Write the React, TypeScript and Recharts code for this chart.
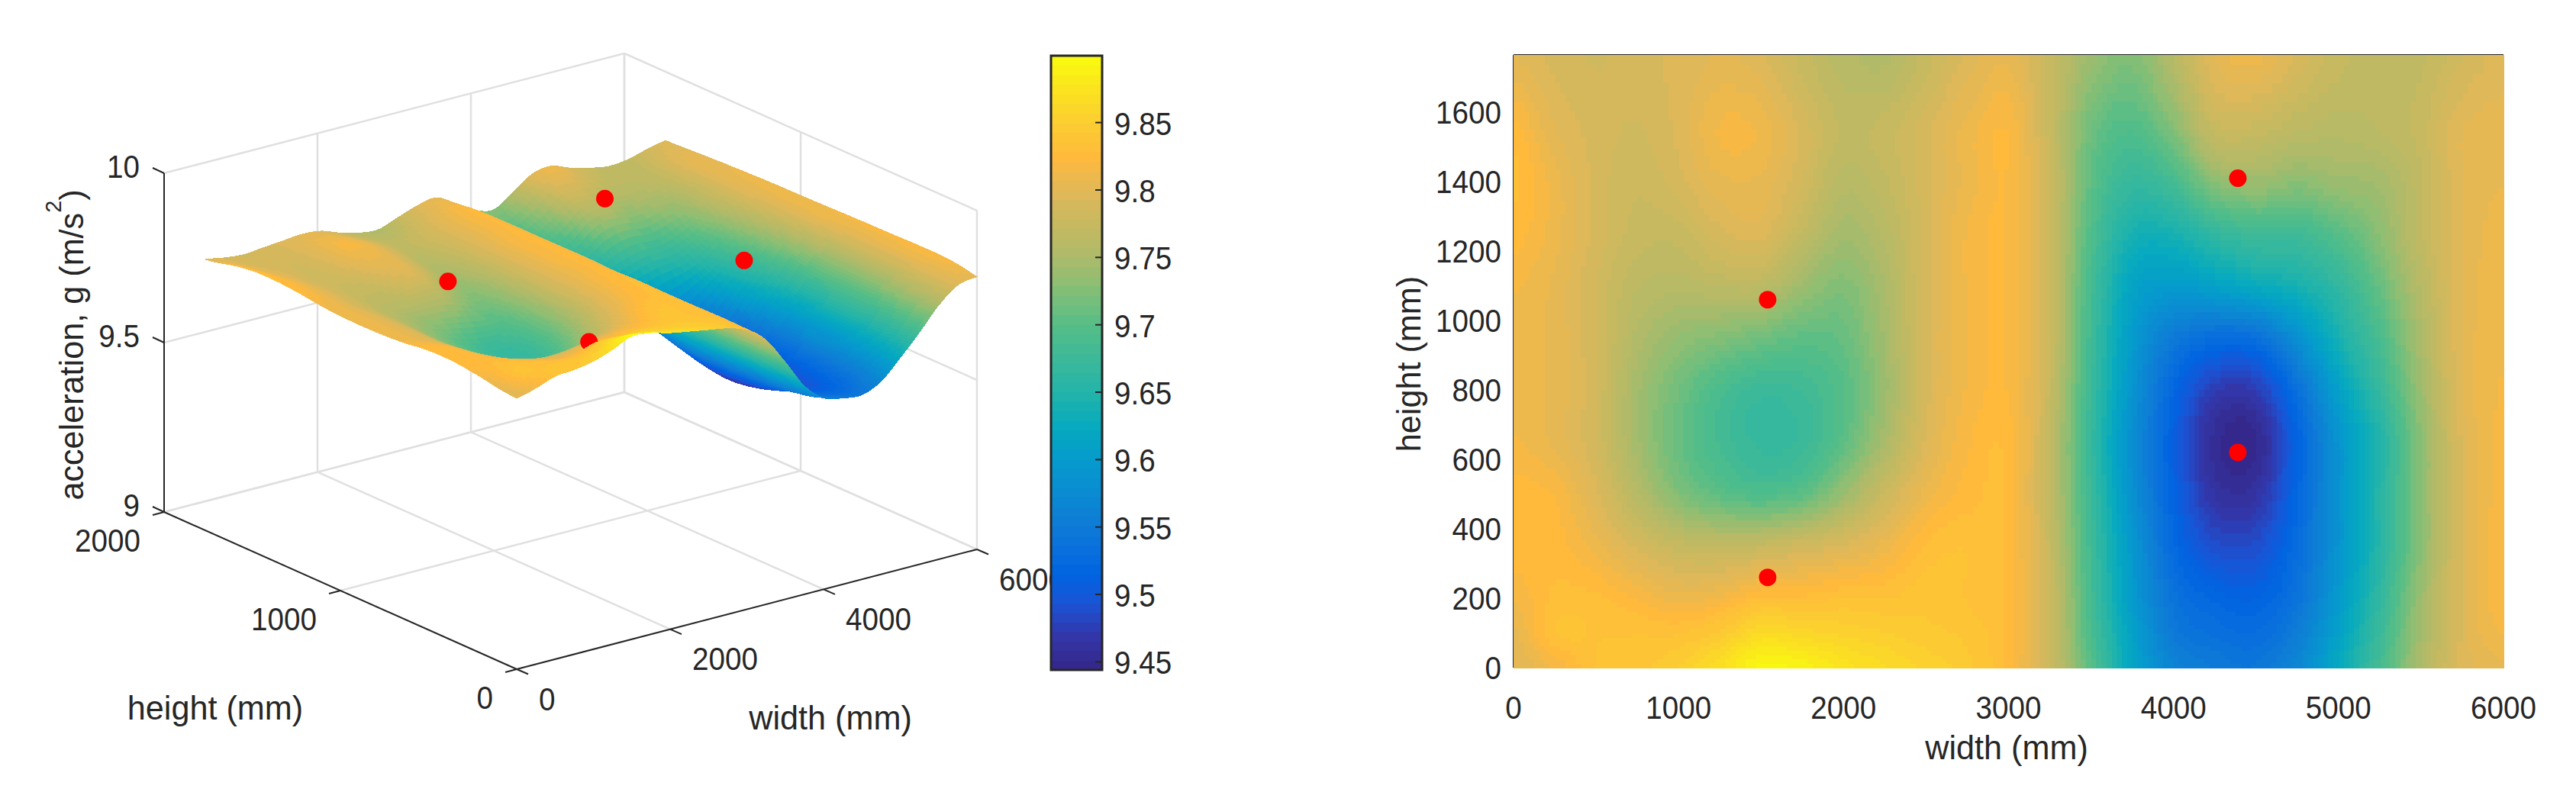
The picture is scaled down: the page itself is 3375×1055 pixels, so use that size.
import { ScatterChart, Scatter, XAxis, YAxis, ReferenceLine } from 'recharts';

const WIDTHS = [0, 250, 500, 750, 1000, 1250, 1500, 1750, 2000, 2250, 2500, 2750, 3000, 3250, 3500, 3750, 4000, 4250, 4500, 4750, 5000, 5250, 5500, 5750, 6000];
const HEIGHTS = [0, 100, 200, 350, 500, 650, 800, 950, 1100, 1250, 1400, 1550, 1765];

// acceleration, one list per width, bottom to top
const ACC_W0 = [9.8, 9.805, 9.815, 9.825, 9.825, 9.815, 9.81, 9.81, 9.815, 9.825, 9.83, 9.825, 9.8];
const ACC_W250 = [9.815, 9.835, 9.83, 9.825, 9.82, 9.805, 9.805, 9.805, 9.805, 9.81, 9.81, 9.8, 9.79];
const ACC_W500 = [9.835, 9.835, 9.83, 9.81, 9.795, 9.785, 9.785, 9.785, 9.785, 9.79, 9.79, 9.79, 9.785];
const ACC_W750 = [9.84, 9.835, 9.82, 9.79, 9.76, 9.745, 9.745, 9.755, 9.765, 9.775, 9.78, 9.785, 9.79];
const ACC_W1000 = [9.85, 9.835, 9.81, 9.775, 9.725, 9.71, 9.715, 9.735, 9.76, 9.775, 9.79, 9.795, 9.795];
const ACC_W1250 = [9.87, 9.845, 9.815, 9.77, 9.705, 9.685, 9.69, 9.725, 9.765, 9.79, 9.805, 9.815, 9.8];
const ACC_W1500 = [9.895, 9.865, 9.83, 9.775, 9.695, 9.67, 9.675, 9.715, 9.765, 9.795, 9.805, 9.812, 9.795];
const ACC_W1750 = [9.89, 9.86, 9.83, 9.785, 9.705, 9.675, 9.68, 9.705, 9.74, 9.77, 9.785, 9.79, 9.775];
const ACC_W2000 = [9.875, 9.855, 9.835, 9.795, 9.74, 9.705, 9.7, 9.71, 9.725, 9.745, 9.76, 9.77, 9.76];
const ACC_W2250 = [9.865, 9.85, 9.835, 9.81, 9.78, 9.75, 9.74, 9.745, 9.75, 9.76, 9.77, 9.775, 9.755];
const ACC_W2500 = [9.855, 9.845, 9.84, 9.83, 9.81, 9.795, 9.79, 9.79, 9.79, 9.79, 9.79, 9.79, 9.775];
const ACC_W2750 = [9.845, 9.84, 9.835, 9.835, 9.825, 9.82, 9.815, 9.815, 9.815, 9.815, 9.81, 9.81, 9.795];
const ACC_W3000 = [9.825, 9.825, 9.825, 9.825, 9.825, 9.825, 9.82, 9.82, 9.82, 9.82, 9.82, 9.82, 9.805];
const ACC_W3250 = [9.78, 9.78, 9.78, 9.775, 9.77, 9.77, 9.775, 9.78, 9.78, 9.78, 9.78, 9.775, 9.775];
const ACC_W3500 = [9.7, 9.69, 9.685, 9.68, 9.675, 9.67, 9.675, 9.68, 9.685, 9.695, 9.705, 9.715, 9.74];
const ACC_W3750 = [9.615, 9.61, 9.6, 9.595, 9.585, 9.58, 9.59, 9.6, 9.615, 9.64, 9.67, 9.695, 9.725];
const ACC_W4000 = [9.565, 9.55, 9.54, 9.525, 9.515, 9.51, 9.52, 9.55, 9.6, 9.64, 9.685, 9.725, 9.76];
const ACC_W4250 = [9.55, 9.535, 9.52, 9.49, 9.465, 9.455, 9.475, 9.53, 9.61, 9.665, 9.73, 9.775, 9.8];
const ACC_W4500 = [9.545, 9.53, 9.515, 9.49, 9.465, 9.45, 9.475, 9.535, 9.625, 9.68, 9.74, 9.775, 9.81];
const ACC_W4750 = [9.57, 9.555, 9.54, 9.53, 9.52, 9.515, 9.535, 9.585, 9.64, 9.68, 9.73, 9.765, 9.79];
const ACC_W5000 = [9.625, 9.61, 9.6, 9.59, 9.59, 9.59, 9.61, 9.64, 9.665, 9.7, 9.74, 9.76, 9.775];
const ACC_W5250 = [9.685, 9.675, 9.665, 9.655, 9.655, 9.65, 9.67, 9.69, 9.71, 9.73, 9.745, 9.765, 9.765];
const ACC_W5500 = [9.75, 9.745, 9.74, 9.73, 9.73, 9.73, 9.74, 9.75, 9.76, 9.77, 9.77, 9.775, 9.77];
const ACC_W5750 = [9.795, 9.795, 9.795, 9.795, 9.795, 9.795, 9.8, 9.8, 9.8, 9.8, 9.8, 9.8, 9.785];
const ACC_W6000 = [9.805, 9.815, 9.82, 9.82, 9.818, 9.817, 9.815, 9.813, 9.812, 9.81, 9.807, 9.803, 9.797];

const ACCEL = [ACC_W0, ACC_W250, ACC_W500, ACC_W750, ACC_W1000, ACC_W1250, ACC_W1500, ACC_W1750, ACC_W2000, ACC_W2250, ACC_W2500, ACC_W2750, ACC_W3000, ACC_W3250, ACC_W3500, ACC_W3750, ACC_W4000, ACC_W4250, ACC_W4500, ACC_W4750, ACC_W5000, ACC_W5250, ACC_W5500, ACC_W5750, ACC_W6000];

// measurement points: width, height, and the height they float at in the 3D view
const POINT_W = [1540, 1540, 4390, 4390];
const POINT_H = [1060, 260, 1410, 620];
const POINT_G = [9.808, 9.815, 9.803, 9.804];

const WIDTH_TICKS = [0, 2000, 4000, 6000];
const DEPTH_TICKS = [0, 1000, 2000];
const ACC_TICKS = [9, 9.5, 10];
const HEAT_X_TICKS = [0, 1000, 2000, 3000, 4000, 5000, 6000];
const HEAT_Y_TICKS = [0, 200, 400, 600, 800, 1000, 1200, 1400, 1600];
const BAR_TICKS = [9.45, 9.5, 9.55, 9.6, 9.65, 9.7, 9.75, 9.8, 9.85];

const G_MIN = 9.444;
const G_MAX = 9.8996;
const LEVELS = 64;
const COLOR_STOPS: [number, number[]][] = [
  [9.444, [53, 38, 135]],
  [9.47, [50, 55, 170]],
  [9.495, [25, 85, 215]],
  [9.515, [0, 100, 225]],
  [9.55, [15, 122, 215]],
  [9.6, [5, 155, 205]],
  [9.625, [6, 170, 190]],
  [9.65, [35, 180, 170]],
  [9.7, [85, 190, 135]],
  [9.73, [140, 190, 115]],
  [9.75, [172, 186, 105]],
  [9.8, [226, 184, 88]],
  [9.825, [255, 186, 60]],
  [9.85, [252, 205, 48]],
  [9.8996, [249, 251, 14]],
];

const TEXT = '#262626';
const GRID = '#e0e0e0';
const FONT = '"Liberation Sans", Arial, sans-serif';
const TICK_SIZE = 42;
const TICK_SQUEEZE = 0.92;
const TITLE_SIZE = 45;
const TITLE_SQUEEZE = 0.96;

const levelColor = (v: number) => {
  const x = Math.min(G_MAX, Math.max(G_MIN, v));
  for (let i = 1; i < COLOR_STOPS.length; i++) {
    const [a, ca] = COLOR_STOPS[i - 1];
    const [b, cb] = COLOR_STOPS[i];
    if (x <= b) {
      const t = (x - a) / (b - a);
      const c = ca.map((q, k) => Math.round(q + (cb[k] - q) * t));
      return `rgb(${c[0]},${c[1]},${c[2]})`;
    }
  }
  return 'rgb(249,251,14)';
};

const colorOf = (v: number) => {
  const step = (G_MAX - G_MIN) / LEVELS;
  const k = Math.min(LEVELS - 1, Math.max(0, Math.floor((v - G_MIN) / step)));
  return levelColor(G_MIN + (k + 0.5) * step);
};

// like MATLAB's shading interp: the cells hold only the values read above,
// the smooth fill between them is painting done inside each cell's shape
const cubic = (a: number, b: number, c: number, d: number, t: number) =>
  b + 0.5 * t * (c - a + t * (2 * a - 5 * b + 4 * c - d + t * (3 * (b - c) + d - a)));

const shadeAt = (u: number, v: number) => {
  const i = Math.min(WIDTHS.length - 2, Math.floor(u));
  const j = Math.min(HEIGHTS.length - 2, Math.floor(v));
  const row = (jj: number) => {
    const y = Math.max(0, Math.min(HEIGHTS.length - 1, jj));
    const at = (ii: number) => ACCEL[Math.max(0, Math.min(WIDTHS.length - 1, ii))][y];
    return cubic(at(i - 1), at(i), at(i + 1), at(i + 2), u - i);
  };
  return cubic(row(j - 1), row(j), row(j + 1), row(j + 2), v - j);
};

const sideAt = (list: number[], u: number) => {
  const i = Math.min(list.length - 2, Math.floor(u));
  return list[i] + (list[i + 1] - list[i]) * (u - i);
};

// fixed view of the 3D box, in the pixels of the left chart
const project = (w: number, h: number, g: number) => ({
  x: 677 + (w / 6000) * 603 - (h / 2000) * 462,
  y: 877 - (w / 6000) * 157 - (h / 2000) * 206 - (g - 9) * 444,
});

const gridCells = WIDTHS.slice(0, -1)
  .flatMap((w, i) => HEIGHTS.slice(0, -1).map((h, j) => ({ i, j, w, h, ...project(w, h, ACCEL[i][j]), hx: w, hy: h })))
  .sort((a, b) => b.i - a.i || b.j - a.j);
const farCells = gridCells.filter((c) => c.h >= 200);
const nearCells = gridCells.filter((c) => c.h < 200);

const surfacePoints = POINT_W.map((w, i) => ({ ...project(w, POINT_H[i], POINT_G[i]) }));
const heatPoints = POINT_W.map((w, i) => ({ hx: w, hy: POINT_H[i] }));

const SurfaceCell = (props: any) => {
  const { cx, cy, payload } = props;
  const { i, j } = payload;
  const US = 10;
  const VS = 5;
  const paths: { d: string; fill: string }[] = [];
  const corner = (u: number, v: number) => {
    const p = project(sideAt(WIDTHS, u), sideAt(HEIGHTS, v), shadeAt(u, v));
    return `${(cx + p.x - payload.x).toFixed(1)} ${(cy + p.y - payload.y).toFixed(1)}`;
  };
  for (let a = US - 1; a >= 0; a--) {
    for (let b = VS - 1; b >= 0; b--) {
      const u0 = i + a / US;
      const u1 = i + (a + 1) / US;
      const v0 = j + b / VS;
      const v1 = j + (b + 1) / VS;
      const fill = colorOf(shadeAt((u0 + u1) / 2, (v0 + v1) / 2));
      const d = `M${corner(u0, v0)}L${corner(u1, v0)}L${corner(u1, v1)}L${corner(u0, v1)}Z`;
      const last = paths[paths.length - 1];
      if (last && last.fill === fill) last.d += d;
      else paths.push({ d, fill });
    }
  }
  return (
    <g>
      {paths.map((p, k) => (
        <path key={k} d={p.d} fill={p.fill} stroke={p.fill} strokeWidth={1} shapeRendering="crispEdges" />
      ))}
    </g>
  );
};

const HEAT_W = 1297;
const HEAT_H = 803;
const HEAT_HMAX = 1765;

const HeatCell = (props: any) => {
  const { cx, cy, payload } = props;
  const { i, j } = payload;
  const SUB = 8;
  const pxW = (HEAT_W / 6000) * (WIDTHS[i + 1] - WIDTHS[i]);
  const pxH = (HEAT_H / HEAT_HMAX) * (HEIGHTS[j + 1] - HEIGHTS[j]);
  const byColor = new Map<string, string>();
  for (let a = 0; a < SUB; a++) {
    for (let b = 0; b < SUB; b++) {
      const fill = colorOf(shadeAt(i + (a + 0.5) / SUB, j + (b + 0.5) / SUB));
      const x = cx + (a / SUB) * pxW;
      const y = cy - ((b + 1) / SUB) * pxH;
      const d = `M${x.toFixed(1)} ${y.toFixed(1)}h${(pxW / SUB + 0.6).toFixed(1)}v${(pxH / SUB + 0.6).toFixed(1)}h${(-pxW / SUB - 0.6).toFixed(1)}Z`;
      byColor.set(fill, (byColor.get(fill) || '') + d);
    }
  }
  return (
    <g>
      {[...byColor.entries()].map(([fill, d]) => (
        <path key={fill} d={d} fill={fill} shapeRendering="crispEdges" />
      ))}
    </g>
  );
};

const RedDot = (props: any) => <circle cx={props.cx} cy={props.cy} r={11.5} fill="#ff0000" />;

const TickText = ({ x, y, anchor, children }: any) => (
  <text
    transform={`translate(${x},${y}) scale(${TICK_SQUEEZE},1)`}
    textAnchor={anchor}
    dominantBaseline="central"
    fontSize={TICK_SIZE}
    fontFamily={FONT}
    fill={TEXT}
  >
    {children}
  </text>
);

const boxTicks = [
  ...WIDTH_TICKS.map((w) => ({ ...project(w, 0, 9), label: String(w), tx: 15, ty: 6.5, lx: 29, ly: 39, anchor: 'start' })),
  ...DEPTH_TICKS.map((h) => ({ ...project(0, h, 9), label: String(h), tx: -15, ty: 4, lx: -31, ly: 37, anchor: 'end' })),
  ...ACC_TICKS.map((g) => ({ ...project(0, 2000, g), label: String(g), tx: -15, ty: -7, lx: -32, ly: -9, anchor: 'end' })),
];

const BoxTick = (props: any) => {
  const { cx, cy, payload } = props;
  return (
    <g>
      <line x1={cx} y1={cy} x2={cx + payload.tx} y2={cy + payload.ty} stroke={TEXT} strokeWidth={2} />
      <TickText x={cx + payload.lx} y={cy + payload.ly} anchor={payload.anchor}>{payload.label}</TickText>
    </g>
  );
};

const seg = (a: number[], b: number[]) => {
  const p = project(a[0], a[1], a[2]);
  const q = project(b[0], b[1], b[2]);
  return [{ x: p.x, y: p.y }, { x: q.x, y: q.y }] as any;
};

const boxGrid = [
  ...WIDTH_TICKS.slice(1).map((w) => seg([w, 0, 9], [w, 2000, 9])),
  ...DEPTH_TICKS.slice(1).map((h) => seg([0, h, 9], [6000, h, 9])),
  ...DEPTH_TICKS.map((h) => seg([6000, h, 9], [6000, h, 10])),
  ...ACC_TICKS.map((g) => seg([6000, 0, g], [6000, 2000, g])),
  ...WIDTH_TICKS.slice(1).map((w) => seg([w, 2000, 9], [w, 2000, 10])),
  ...ACC_TICKS.map((g) => seg([0, 2000, g], [6000, 2000, g])),
];
const boxAxes = [seg([0, 0, 9], [6000, 0, 9]), seg([0, 0, 9], [0, 2000, 9]), seg([0, 2000, 9], [0, 2000, 10])];

const SurfaceTitles = () => (
  <g fontFamily={FONT} fill={TEXT} fontSize={TITLE_SIZE} textAnchor="middle" dominantBaseline="central">
    <text transform={`translate(282,927) scale(${TITLE_SQUEEZE},1)`}>height (mm)</text>
    <text transform={`translate(1088,940) scale(${TITLE_SQUEEZE},1)`}>width (mm)</text>
    <text transform={`translate(93,452) rotate(-90) scale(${TITLE_SQUEEZE},1)`}>
      acceleration, g (m/s<tspan dy={-24} fontSize={30}>2</tspan><tspan dy={24}>)</tspan>
    </text>
  </g>
);

const SurfaceChart = () => (
  <ScatterChart width={1420} height={1055} margin={{ top: 0, right: 0, bottom: 0, left: 0 }} style={{ position: 'absolute', left: 0, top: 0 }}>
    <XAxis type="number" dataKey="x" domain={[0, 1420]} hide />
    <YAxis type="number" dataKey="y" domain={[0, 1055]} reversed hide />
    {boxGrid.map((s, i) => (
      <ReferenceLine key={i} segment={s} stroke={GRID} strokeWidth={2.5} ifOverflow="visible" />
    ))}
    {boxAxes.map((s, i) => (
      <ReferenceLine key={i} segment={s} stroke={TEXT} strokeWidth={2} ifOverflow="visible" />
    ))}
    <Scatter data={boxTicks} shape={BoxTick} isAnimationActive={false} />
    <Scatter data={farCells} shape={SurfaceCell} isAnimationActive={false} />
    <Scatter data={surfacePoints} shape={RedDot} isAnimationActive={false} />
    <Scatter data={nearCells} shape={SurfaceCell} isAnimationActive={false} />
    <SurfaceTitles />
  </ScatterChart>
);

const barLevels = Array.from({ length: LEVELS }, (_, k) => ({ x: 0, y: G_MIN + (k + 1) * ((G_MAX - G_MIN) / LEVELS) }));
const BAR_W = 67;
const BAR_H = 805;

const BarLevel = (props: any) => {
  const h = BAR_H / LEVELS;
  const mid = props.payload.y - (G_MAX - G_MIN) / LEVELS / 2;
  return <rect x={props.cx} y={props.cy} width={BAR_W} height={h + 0.6} fill={levelColor(mid)} shapeRendering="crispEdges" />;
};

const BarTick = (props: any) => (
  <g>
    <line x1={props.cx + BAR_W - 9} y1={props.cy} x2={props.cx + BAR_W} y2={props.cy} stroke={TEXT} strokeWidth={2} />
    <TickText x={props.cx + BAR_W + 16} y={props.cy + 1.5} anchor="start">{String(props.payload.y)}</TickText>
  </g>
);

const BarFrame = (props: any) => <rect x={props.cx} y={props.cy} width={BAR_W} height={BAR_H} fill="none" stroke={TEXT} strokeWidth={3} />;

const ColorBar = () => (
  <ScatterChart width={400} height={1055} margin={{ top: 73, right: 296, bottom: 177, left: 37 }} style={{ position: 'absolute', left: 1340, top: 0 }}>
    <XAxis type="number" dataKey="x" domain={[0, 1]} hide />
    <YAxis type="number" dataKey="y" domain={[G_MIN, G_MAX]} hide />
    <Scatter data={barLevels} shape={BarLevel} isAnimationActive={false} />
    <Scatter data={BAR_TICKS.map((y) => ({ x: 0, y }))} shape={BarTick} isAnimationActive={false} />
    <Scatter data={[{ x: 0, y: G_MAX }]} shape={BarFrame} isAnimationActive={false} />
  </ScatterChart>
);

const HeatXTick = (props: any) => <TickText x={props.x} y={props.y + 44} anchor="middle">{props.payload.value}</TickText>;
const HeatYTick = (props: any) => <TickText x={1967 - 1800} y={props.y} anchor="end">{props.payload.value}</TickText>;

const HeatTitles = () => (
  <g fontFamily={FONT} fill={TEXT} fontSize={TITLE_SIZE} textAnchor="middle" dominantBaseline="central">
    <text transform={`translate(829,979) scale(${TITLE_SQUEEZE},1)`}>width (mm)</text>
    <text transform={`translate(45,477) rotate(-90) scale(${TITLE_SQUEEZE},1)`}>height (mm)</text>
    <line x1={183} y1={72} x2={1480} y2={72} stroke={TEXT} strokeWidth={2} shapeRendering="crispEdges" />
    <line x1={183} y1={72} x2={183} y2={875} stroke={TEXT} strokeWidth={2} shapeRendering="crispEdges" />
  </g>
);

const HeatMap = () => (
  <ScatterChart width={1575} height={1055} margin={{ top: 72, right: 95, bottom: 120, left: 83 }} style={{ position: 'absolute', left: 1800, top: 0 }}>
    <XAxis type="number" dataKey="hx" domain={[0, 6000]} ticks={HEAT_X_TICKS} height={60} axisLine={false} tickLine={false} tick={HeatXTick} interval={0} />
    <YAxis type="number" dataKey="hy" domain={[0, HEAT_HMAX]} ticks={HEAT_Y_TICKS} width={100} axisLine={false} tickLine={false} tick={HeatYTick} interval={0} />
    <Scatter data={gridCells} shape={HeatCell} isAnimationActive={false} />
    <Scatter data={heatPoints} shape={RedDot} isAnimationActive={false} />
    <HeatTitles />
  </ScatterChart>
);

export default function App() {
  return (
    <div style={{ position: 'absolute', left: 0, top: 0, width: 3375, height: 1055, background: '#fff', overflow: 'hidden' }}>
      <SurfaceChart />
      <ColorBar />
      <HeatMap />
    </div>
  );
}
